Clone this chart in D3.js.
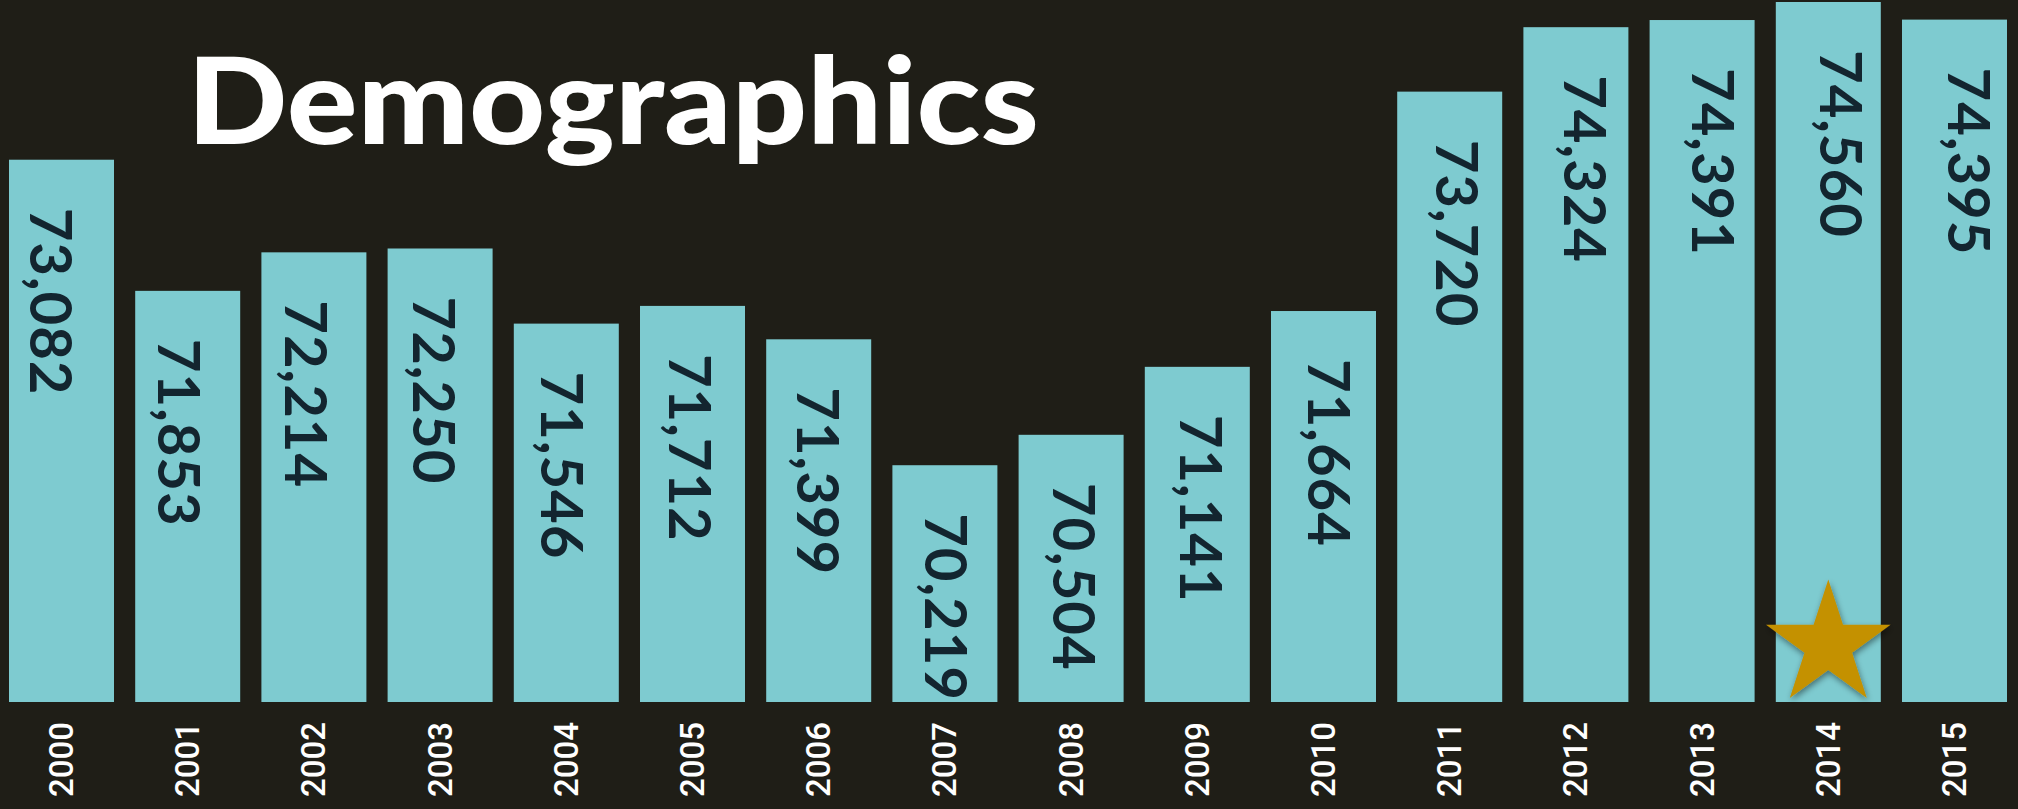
<!DOCTYPE html>
<html>
<head>
<meta charset="utf-8">
<script src="https://cdn.jsdelivr.net/npm/d3@7"></script>
<style>
  html, body { margin: 0; padding: 0; background: #1f1e17; overflow: hidden; }
  svg { display: block; }
</style>
</head>
<body>
<svg id="chart" width="2018" height="809"></svg>
<script>
// Residents per year
const years = ["2000", "2001", "2002", "2003", "2004", "2005", "2006", "2007",
               "2008", "2009", "2010", "2011", "2012", "2013", "2014", "2015"];
const residents = [73082, 71853, 72214, 72250, 71546, 71712, 71399, 70219,
                   70504, 71141, 71664, 73720, 74324, 74391, 74560, 74395];
const highlightYear = "2014";
const chartTitle = "Demographics";
const baselineValue = 68000;

const W = 2018, H = 809;
const data = years.map((yr, i) => ({ year: yr, value: residents[i] }));

const svg = d3.select("#chart");

svg.append("rect").attr("width", W).attr("height", H).attr("fill", "#1f1e17");

const defs = svg.append("defs");
const shadow = defs.append("filter").attr("id", "starShadow")
  .attr("x", "-30%").attr("y", "-30%").attr("width", "160%").attr("height", "160%");
shadow.append("feDropShadow")
  .attr("dx", 1).attr("dy", 3).attr("stdDeviation", 3)
  .attr("flood-color", "#000").attr("flood-opacity", 0.45);

const x = d3.scaleBand().domain(years).range([9, 2007]).paddingInner(0.168).paddingOuter(0);
const xLabel = d3.scalePoint().domain(years).range([50, 1968]);
const y = d3.scaleLinear().domain([baselineValue, d3.max(residents)]).range([702, 2]);

// Bars
svg.append("g").selectAll("rect")
  .data(data)
  .join("rect")
  .attr("x", d => x(d.year))
  .attr("y", d => y(d.value))
  .attr("width", x.bandwidth())
  .attr("height", d => y(baselineValue) - y(d.value))
  .attr("fill", "#7ecbd0");

// Value labels, running down each bar
const fmt = d3.format(",");
svg.append("g").selectAll("text")
  .data(data)
  .join("text")
  .attr("transform", d => `translate(${xLabel(d.year)},${y(d.value) + 48}) rotate(90)`)
  .attr("dy", "0.35em")
  .attr("text-anchor", "start")
  .attr("font-family", "Lato, 'Noto Sans', sans-serif")
  .attr("font-weight", 700)
  .attr("font-size", 58)
  .attr("letter-spacing", 1)
  .attr("fill", "#13252f")
  .text(d => fmt(d.value));

// Year axis
const axis = svg.append("g")
  .attr("transform", `translate(0,${y(baselineValue)})`)
  .call(d3.axisBottom(x).tickSize(0));
axis.select(".domain").remove();
axis.selectAll("text")
  .attr("transform", "rotate(-90)")
  .attr("x", -95)
  .attr("y", 0)
  .attr("dy", "0.35em")
  .attr("text-anchor", "start")
  .attr("font-family", "Roboto, 'Liberation Sans', Arial, sans-serif")
  .attr("font-weight", 500)
  .attr("font-size", 33)
  .attr("fill", "#ffffff");

// Star on the highlighted year
const starR = 65.5;
svg.append("path")
  .attr("d", d3.symbol(d3.symbolStar, starR * starR / 0.8908130915292852)())
  .attr("transform", `translate(${x(highlightYear) + x.bandwidth() / 2},${y(baselineValue) - 57})`)
  .attr("fill", "#c49102")
  .attr("filter", "url(#starShadow)");

// Title
svg.append("text")
  .attr("x", 187)
  .attr("y", 144)
  .attr("font-family", "Lato, 'Noto Sans', sans-serif")
  .attr("font-weight", 900)
  .attr("font-size", 120)
  .attr("textLength", 852)
  .attr("lengthAdjust", "spacingAndGlyphs")
  .attr("fill", "#ffffff")
  .text(chartTitle);
</script>
</body>
</html>
